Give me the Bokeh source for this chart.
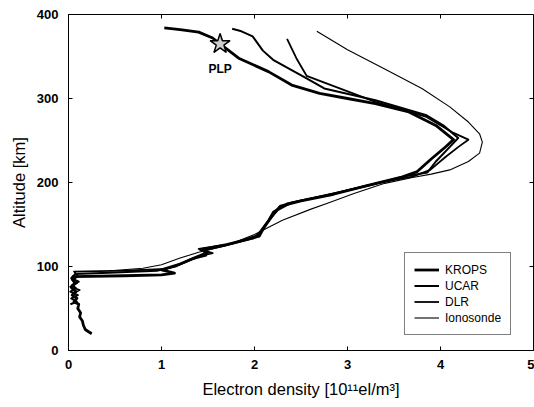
from bokeh.plotting import figure
from bokeh.models import Range1d, Legend, LegendItem, FixedTicker, Label
from bokeh.embed import file_html
from bokeh.resources import INLINE

# ---- data (electron density in 1e11 el/m^3, altitude km) ----
krops_ne = [0.25, 0.22, 0.18, 0.16, 0.15, 0.12, 0.13, 0.10, 0.11, 0.06, 0.09, 0.04, 0.08, 0.03,
            0.07, 0.04, 0.05, 0.6, 1.0, 1.14, 1.0, 1.2, 1.35, 1.5, 1.42, 1.7, 2.05, 2.1, 2.2,
            2.28, 2.5, 2.85, 3.2, 3.57, 3.75, 3.9, 4.05, 4.14, 3.95, 3.66, 3.30, 3.0, 2.7,
            2.4, 2.15, 1.83, 1.63, 1.55, 1.40, 1.20, 1.03]
krops_alt = [20, 22, 25, 30, 35, 40, 45, 50, 55, 58, 62, 66, 70, 75,
             80, 85, 88, 89, 90, 92, 96, 103, 110, 117, 120, 126, 136, 146, 162,
             172, 178, 186, 196, 206, 213, 228, 242, 251, 268, 284, 294, 300, 306,
             316, 332, 348, 365, 372, 379, 382, 384]

ucar_ne = [0.02, 0.09, 0.03, 0.10, 0.02, 0.08, 0.04, 0.11, 0.03, 0.07, 0.5, 0.95, 1.15, 1.30,
           1.48, 1.45, 1.65, 2.0, 2.05, 2.15, 2.2, 2.35, 2.6, 2.9, 3.25, 3.6, 3.86, 3.95,
           4.08, 4.19, 4.03, 3.85, 3.30, 2.75, 2.56, 2.20, 2.09, 1.98, 1.86, 1.76]
ucar_alt = [55, 58, 62, 66, 70, 74, 78, 82, 86, 91, 93, 95, 100, 108,
            113, 119, 124, 134, 140, 155, 165, 175, 181, 188, 197, 207, 212, 225,
            240, 253, 268, 280, 298, 312, 324, 346, 357, 374, 380, 383]

dlr_ne = [0.05, 0.12, 0.02, 0.09, 0.04, 0.10, 0.06, 0.6, 1.05, 1.25, 1.4, 1.55, 1.4, 1.75,
          2.05, 2.12, 2.25, 2.4, 2.7, 3.0, 3.35, 3.7, 3.89, 4.05, 4.2, 4.30, 4.14, 3.85,
          3.30, 2.56, 2.45, 2.35]
dlr_alt = [68, 72, 76, 80, 84, 88, 94, 95, 97, 105, 112, 116, 121, 127,
           138, 150, 167, 176, 183, 191, 200, 207, 215, 230, 243, 251, 259, 278,
           296, 327, 348, 371]

iono_ne = [0.45, 0.8, 1.0, 1.2, 1.4, 1.7, 2.0, 2.3, 2.6, 2.8, 3.07, 3.4, 3.7, 3.9, 4.1,
           4.3, 4.42, 4.45, 4.42, 4.3, 4.1, 3.8, 3.4, 3.0, 2.67]
iono_alt = [95, 98, 102, 110, 117, 125, 138, 155, 168, 176, 187, 199, 206, 210, 215,
            225, 235, 248, 258, 272, 290, 312, 335, 358, 380]

plp_ne = [1.63]
plp_alt = [365]

x_ticks = [0, 1, 2, 3, 4, 5]
y_ticks = [0, 100, 200, 300, 400]

FONT = "Liberation Sans"
X_MAX, Y_MAX = 5, 400

p = figure(width=534, height=407, output_backend="svg", toolbar_location=None,
           x_range=Range1d(0, X_MAX), y_range=Range1d(0, Y_MAX),
           min_border_left=68, min_border_right=1, min_border_top=14, min_border_bottom=57)
p.grid.visible = False
p.outline_line_color = "black"
p.outline_line_width = 1
p.background_fill_color = "white"
p.border_fill_color = "white"

for ax, tk in ((p.xaxis[0], x_ticks), (p.yaxis[0], y_ticks)):
    ax.ticker = FixedTicker(ticks=tk)
    ax.major_tick_in = 4
    ax.major_tick_out = 0
    ax.minor_tick_line_color = None
    ax.axis_line_color = "black"
    ax.major_label_text_font = FONT
    ax.major_label_text_font_style = "bold"
    ax.major_label_text_font_size = "13px"
    ax.major_label_text_color = "black"
    ax.axis_label_text_font = FONT
    ax.axis_label_text_font_style = "normal"
    ax.axis_label_text_font_size = "16.5px"
    ax.axis_label_text_color = "black"

p.xaxis.axis_label = "Electron density [10\u00b9\u00b9el/m\u00b3]"
p.yaxis.axis_label = "Altitude [km]"
p.xaxis.major_label_standoff = 9
p.yaxis.major_label_standoff = 10
p.xaxis.axis_label_standoff = 8
p.yaxis.axis_label_standoff = 6

# inward ticks on the top and right frame edges
tick_dy = Y_MAX * 4 / 336
tick_dx = X_MAX * 4 / 465
p.segment(x0=x_ticks, y0=[Y_MAX] * len(x_ticks), x1=x_ticks,
          y1=[Y_MAX - tick_dy] * len(x_ticks), line_color="black", line_width=1)
p.segment(x0=[X_MAX] * len(y_ticks), y0=y_ticks, x1=[X_MAX - tick_dx] * len(y_ticks),
          y1=y_ticks, line_color="black", line_width=1)

r_k = p.line(krops_ne, krops_alt, line_color="black", line_width=2.8, line_join="round")
r_u = p.line(ucar_ne, ucar_alt, line_color="black", line_width=2.0, line_join="round")
r_d = p.line(dlr_ne, dlr_alt, line_color="black", line_width=1.8, line_join="round")
r_i = p.line(iono_ne, iono_alt, line_color="black", line_width=1.1, line_join="round")

p.scatter(plp_ne, plp_alt, marker="star", size=21, fill_color="#cccccc",
          line_color="black", line_width=1.5)
p.add_layout(Label(x=plp_ne[0], y=plp_alt[0] - 30, text="PLP", text_font=FONT,
                   text_font_style="bold", text_font_size="12px", text_align="center",
                   text_baseline="middle", text_color="black"))

legend = Legend(items=[LegendItem(label="KROPS", renderers=[r_k]),
                       LegendItem(label="UCAR", renderers=[r_u]),
                       LegendItem(label="DLR", renderers=[r_d]),
                       LegendItem(label="Ionosonde", renderers=[r_i])],
                location=(336, 15))
legend.label_text_font = FONT
legend.label_text_font_size = "12px"
legend.label_text_color = "black"
legend.border_line_color = "black"
legend.border_line_width = 1
legend.padding = 9
legend.spacing = 1
legend.label_height = 15
legend.glyph_height = 15
legend.glyph_width = 25
legend.label_standoff = 6
legend.margin = 0
legend.background_fill_alpha = 1
p.add_layout(legend, "center")

open("out.html", "w").write(file_html(p, INLINE))
